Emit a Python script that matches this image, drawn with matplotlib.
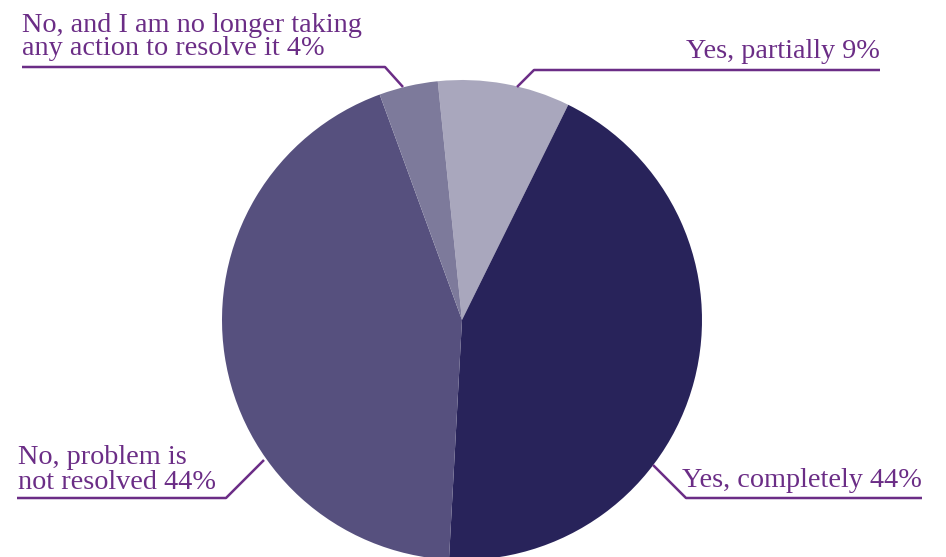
import matplotlib
matplotlib.use("Agg")
import matplotlib.pyplot as plt

categories = ["Yes, partially", "Yes, completely", "No, problem is\nnot resolved",
              "No, and I am no longer taking\nany action to resolve it"]
values = [9, 44, 44, 4]
colors = ["#a9a7bd", "#28235a", "#56507e", "#7d7a9b"]
text_color = "#6b2d86"

W, H = 946, 557
fig = plt.figure(figsize=(W / 100, H / 100), dpi=100)
ax = fig.add_axes([0, 0, 1, 1])

cx, cy, r = 462, H - 320, 240
ax.pie(values, colors=colors, startangle=95.8, counterclock=False,
       center=(cx, cy), radius=r, frame=True,
       wedgeprops=dict(linewidth=0))
ax.set_xlim(0, W)
ax.set_ylim(0, H)
ax.set_aspect("equal")
ax.axis("off")

def Y(y):
    return H - y

font = dict(family="Liberation Serif", fontsize=20.3, color=text_color)
lw = 1.8

def label(lines, x, baselines, ha):
    for line, b in zip(lines, baselines):
        ax.text(x, Y(b), line, ha=ha, va="baseline", **font)

def full(i):
    return (f"{categories[i]} {values[i]}%").split("\n")

# Yes, partially
ax.plot([517, 534, 880], [Y(87), Y(70), Y(70)], color=text_color, lw=lw, solid_capstyle="butt")
label(full(0), 880, [58], "right")

# Yes, completely
ax.plot([653, 686, 922], [Y(465), Y(498), Y(498)], color=text_color, lw=lw, solid_capstyle="butt")
label(full(1), 922, [487], "right")

# No, problem is not resolved
ax.plot([264, 226, 17], [Y(460), Y(498), Y(498)], color=text_color, lw=lw, solid_capstyle="butt")
label(full(2), 18, [464, 489], "left")

# No, and I am no longer taking...
ax.plot([403, 385, 22], [Y(87), Y(67), Y(67)], color=text_color, lw=lw, solid_capstyle="butt")
label(full(3), 22, [32, 55], "left")

fig.savefig("out.png", dpi=100)
